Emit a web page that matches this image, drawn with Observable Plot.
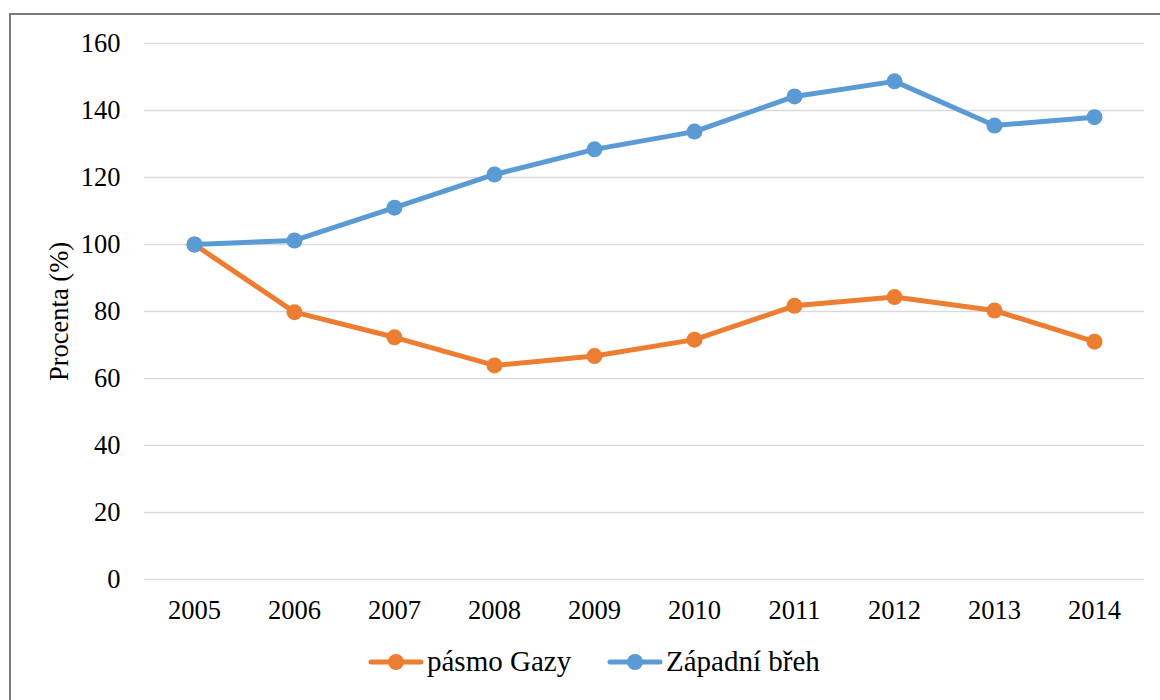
<!DOCTYPE html>
<html>
<head>
<meta charset="utf-8">
<script src="https://cdn.jsdelivr.net/npm/d3@7"></script>
<script src="https://cdn.jsdelivr.net/npm/@observablehq/plot@0.6"></script>
<style>
  html, body { margin: 0; padding: 0; background: #fff; overflow: hidden; }
  #wrap { position: relative; width: 1160px; height: 700px; font-family: "Liberation Serif", "Times New Roman", serif; }
  #frame { position: absolute; left: 9px; top: 13px; width: 1200px; height: 760px; border-left: 2px solid #7a7a7a; border-top: 2px solid #7a7a7a; pointer-events: none; }
  #chart { position: absolute; left: 0; top: 0; }
  #legend { position: absolute; top: 645px; left: 0; width: 1160px; height: 40px; }
  .item { position: absolute; top: 0; display: flex; align-items: center; font-size: 29px; color: #000; white-space: nowrap; }
  .item svg { margin-right: 3px; }
</style>
</head>
<body>
<div id="wrap">
  <div id="chart"></div>
  <div id="legend"></div>
  <div id="frame"></div>
</div>
<script>
const years = [2005, 2006, 2007, 2008, 2009, 2010, 2011, 2012, 2013, 2014];
const gaza = [100, 79.8, 72.3, 63.9, 66.7, 71.6, 81.7, 84.3, 80.3, 71.0];
const westBank = [100, 101.2, 111.0, 120.9, 128.4, 133.7, 144.2, 148.7, 135.5, 138.0];
const seriesNames = ["pásmo Gazy", "Západní břeh"];
const seriesColors = ["#ED7D31", "#5B9BD5"];
const yTicks = [0, 20, 40, 60, 80, 100, 120, 140, 160];
const yLabel = "Procenta (%)";

const rows = [];
years.forEach((yr, i) => {
  rows.push({year: yr, value: gaza[i], series: seriesNames[0]});
});
years.forEach((yr, i) => {
  rows.push({year: yr, value: westBank[i], series: seriesNames[1]});
});

const plot = Plot.plot({
  width: 1160,
  height: 640,
  marginLeft: 144,
  marginRight: 16,
  marginTop: 43,
  marginBottom: 61,
  style: {fontFamily: "'Liberation Serif', 'Times New Roman', serif", fontSize: "26.5px", color: "#000", background: "transparent"},
  x: {domain: [2004.5, 2014.5]},
  y: {domain: [0, 160]},
  color: {domain: seriesNames, range: seriesColors},
  marks: [
    Plot.gridY(yTicks, {stroke: "#d9d9d9", strokeOpacity: 1, strokeWidth: 1.6}),
    Plot.axisY({ticks: yTicks, tickSize: 0, tickPadding: 24, fontSize: 26.5, label: yLabel, labelAnchor: "center", labelArrow: "none", labelOffset: 95}),
    Plot.axisX({ticks: years, tickFormat: d => String(d), tickSize: 0, tickPadding: 21, fontSize: 26.5, label: null}),
    Plot.line(rows, {x: "year", y: "value", z: "series", stroke: "series", strokeWidth: 5, strokeLinejoin: "round", strokeLinecap: "round"}),
    Plot.dot(rows, {x: "year", y: "value", fill: "series", r: 8, stroke: null})
  ]
});
document.getElementById("chart").appendChild(plot);

const legend = document.getElementById("legend");
const lefts = [368, 607];
seriesNames.forEach((name, i) => {
  const div = document.createElement("div");
  div.className = "item";
  div.style.left = lefts[i] + "px";
  div.innerHTML = `<svg width="56" height="20"><line x1="3" y1="10" x2="53" y2="10" stroke="${seriesColors[i]}" stroke-width="5" stroke-linecap="round"/><circle cx="28" cy="10" r="8" fill="${seriesColors[i]}"/></svg><span>${name}</span>`;
  legend.appendChild(div);
});
</script>
</body>
</html>
